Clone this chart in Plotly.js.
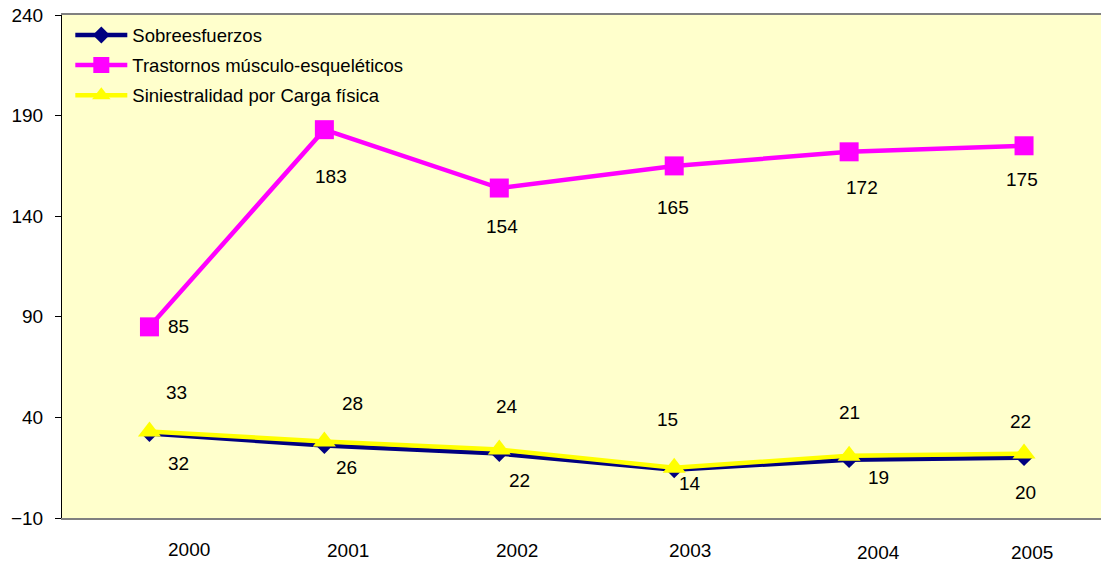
<!DOCTYPE html>
<html>
<head>
<meta charset="utf-8">
<script src="https://cdn.plot.ly/plotly-3.0.1.min.js"></script>
<style>html,body{margin:0;padding:0;background:#fff;}#chart{width:1101px;height:564px;}</style>
</head>
<body>
<div id="chart"></div>
<script>
// Data
var years = ['2000', '2001', '2002', '2003', '2004', '2005'];
var sobreesfuerzos = [32, 26, 22, 14, 19, 20];
var trastornos = [85, 183, 154, 165, 172, 175];
var siniestralidad = [33, 28, 24, 15, 21, 22];
var seriesNames = ['Sobreesfuerzos', 'Trastornos músculo-esqueléticos', 'Siniestralidad por Carga física'];

// Label offsets (pixels) for data labels and year labels
var offSob = [[29, -30], [22, -22], [20, -27], [16, -14], [29, -18], [1, -35]];
var offTra = [[29, 0], [7, -47], [3, -38], [-1, -42], [13, -36], [-2, -34]];
var offSin = [[27, 39], [28, 38], [8, 43], [-7, 48], [0, 43], [-4, 32]];
var yearShift = [[40, -31], [24, -32], [18, -32], [16, -32], [29, -34], [8, -34]];

var font = 'Arial, Liberation Sans, sans-serif';

var traces = [
  {x: years, y: sobreesfuerzos, name: seriesNames[0], legendgroup: 'a', type: 'scatter', mode: 'lines+markers',
   line: {color: '#000080', width: 4.5}, marker: {symbol: 'diamond', size: 13, color: '#000080'}},
  {x: years, y: trastornos, name: seriesNames[1], legendgroup: 'b', type: 'scatter', mode: 'lines+markers',
   line: {color: '#FF00FF', width: 4.5}, marker: {symbol: 'square', size: 19, color: '#FF00FF'}},
  {x: years, y: siniestralidad, name: seriesNames[2], legendgroup: 'c', type: 'scatter', mode: 'lines+markers',
   line: {color: '#FFFF00', width: 4.5}, marker: {symbol: 'triangle-up', size: 20, color: '#FFFF00'}}
];

var annotations = [];
function addLabels(vals, offs) {
  for (var i = 0; i < years.length; i++) {
    annotations.push({x: i, y: vals[i], xref: 'x', yref: 'y', text: String(vals[i]),
      showarrow: false, xshift: offs[i][0], yshift: offs[i][1],
      font: {family: font, size: 19, color: '#000000'}});
  }
}
addLabels(sobreesfuerzos, offSob);
addLabels(trastornos, offTra);
addLabels(siniestralidad, offSin);
for (var i = 0; i < years.length; i++) {
  annotations.push({x: i, y: 0, xref: 'x', yref: 'paper', text: years[i], showarrow: false,
    xshift: yearShift[i][0], yshift: yearShift[i][1], yanchor: 'middle',
    font: {family: font, size: 19, color: '#000000'}});
}

var layout = {
  width: 1101, height: 564,
  margin: {l: 62, r: 0, t: 15, b: 46},
  paper_bgcolor: '#FFFFFF',
  plot_bgcolor: '#FFFFCC',
  showlegend: true,
  legend: {x: 0.008, y: 0.997, xanchor: 'left', yanchor: 'top', bgcolor: 'rgba(0,0,0,0)',
    font: {family: font, size: 18.5, color: '#000000'}, tracegroupgap: 3, itemwidth: 52},
  xaxis: {type: 'category', range: [-0.5, 5.44], showticklabels: false, ticks: '',
    showline: true, linecolor: '#808080', linewidth: 2, mirror: true, showgrid: false, zeroline: false},
  yaxis: {range: [-10, 240], tick0: -10, dtick: 50, ticks: 'outside', ticklen: 6, tickcolor: '#000000',
    ticklabelstandoff: 8,
    showline: true, linecolor: '#000000', linewidth: 1, showgrid: false, zeroline: false,
    tickfont: {family: font, size: 19, color: '#000000'}},
  annotations: annotations
};

Plotly.newPlot('chart', traces, layout, {displayModeBar: false, staticPlot: true});
</script>
</body>
</html>
